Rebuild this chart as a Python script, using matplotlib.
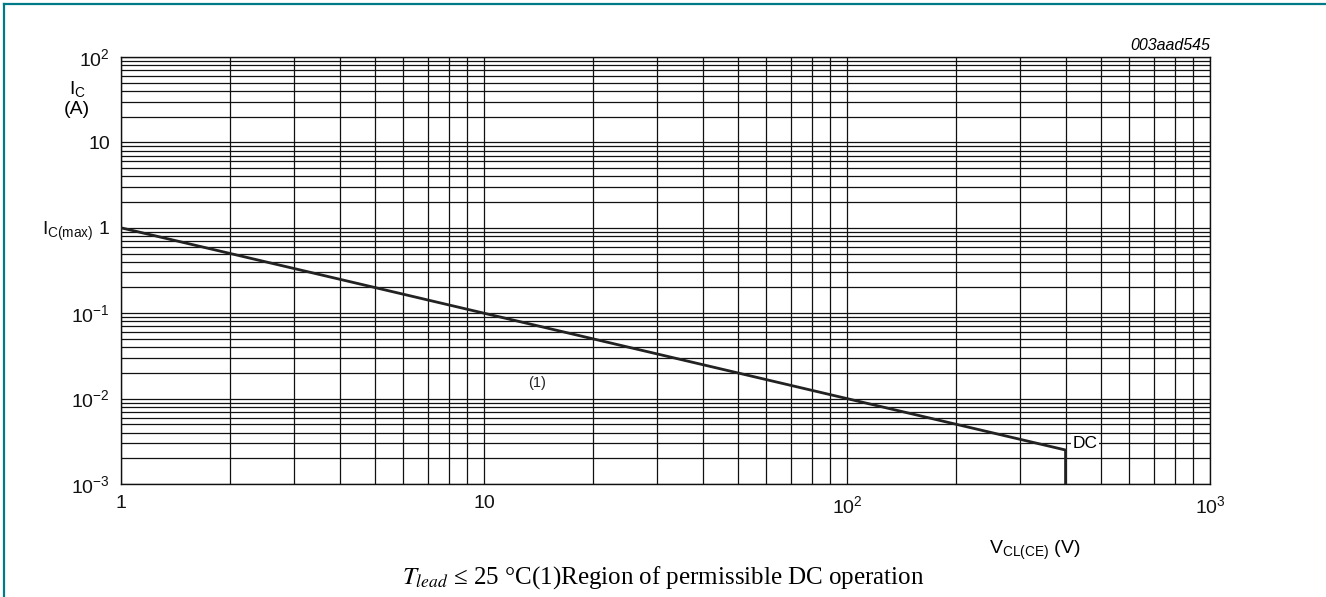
import matplotlib
matplotlib.use("Agg")
import matplotlib.pyplot as plt
from matplotlib.lines import Line2D
from matplotlib.ticker import LogLocator, NullFormatter, FixedLocator

plt.rcParams['mathtext.fontset'] = 'custom'
plt.rcParams['mathtext.rm'] = 'Liberation Sans'
plt.rcParams['mathtext.it'] = 'Liberation Sans:italic'
plt.rcParams['font.family'] = ['Liberation Sans', 'DejaVu Sans']

# Data
soa_v = [1, 400, 400]
soa_i = [1, 0.0025, 0.001]
x_ticks = [1, 10, 100, 1000]
x_ticklabels = ['1', '10', r'$\mathregular{10^{2}}$', r'$\mathregular{10^{3}}$']
y_ticks = [1e-3, 1e-2, 1e-1, 1, 10, 100]
y_ticklabels = [r'$\mathregular{10^{-3}}$', r'$\mathregular{10^{-2}}$', r'$\mathregular{10^{-1}}$',
                r'$\mathregular{I_{C(max)}}$ 1', '10', r'$\mathregular{10^{2}}$']

W, H = 1326, 597
fig = plt.figure(figsize=(W / 100, H / 100), dpi=100)
ax = fig.add_axes([121 / W, 1 - 484 / H, (1210 - 121) / W, (484 - 57) / H])

ax.set_xscale('log')
ax.set_yscale('log')
ax.set_xlim(1, 1000)
ax.set_ylim(1e-3, 100)

ax.xaxis.set_major_locator(FixedLocator(x_ticks))
ax.set_xticklabels(x_ticklabels)
ax.yaxis.set_major_locator(FixedLocator(y_ticks))
ax.set_yticklabels(y_ticklabels)
ax.xaxis.set_minor_locator(LogLocator(base=10, subs=range(2, 10), numticks=20))
ax.yaxis.set_minor_locator(LogLocator(base=10, subs=range(2, 10), numticks=20))
ax.xaxis.set_minor_formatter(NullFormatter())
ax.yaxis.set_minor_formatter(NullFormatter())
ax.tick_params(which='both', length=0, labelsize=14, colors='#111111')
ax.tick_params(axis='x', pad=8)
ax.tick_params(axis='y', pad=8)

ax.grid(which='both', color='#111111', lw=0.9)
for s in ax.spines.values():
    s.set_color('#111111')
    s.set_linewidth(1.0)

ax.plot(soa_v, soa_i, color='#222222', lw=2.0, solid_joinstyle='miter', zorder=3)

ax.text(419, 0.00302, 'DC', fontsize=12.5, ha='left', va='center', zorder=4,
        bbox=dict(facecolor='white', edgecolor='none', pad=1.0))
ax.text(14, 0.0152, '(1)', fontsize=10.5, ha='center', va='center', color='#222222')

fig.text(1210 / W, 1 - 45 / H, '003aad545', ha='right', va='center', fontsize=11.5, style='italic')
fig.text(77 / W, 1 - 89 / H, r'$\mathregular{I_C}$', ha='center', va='center', fontsize=14)
fig.text(77 / W, 1 - 110 / H, '(A)', ha='center', va='center', fontsize=14)
fig.text(1035 / W, 1 - 550 / H, r'$\mathregular{V_{CL(CE)}}$ (V)', ha='center', va='center', fontsize=14)

fig.text(663 / W, 1 - 578 / H, r'$T_{lead}$ ≤ 25 °C(1)Region of permissible DC operation',
         ha='center', va='center', fontsize=18, family='Liberation Serif', math_fontfamily='stix')

teal = '#007A87'
fig.add_artist(Line2D([4 / W, 1], [1 - 4 / H, 1 - 4 / H], color=teal, lw=1.6, transform=fig.transFigure))
fig.add_artist(Line2D([4 / W, 4 / W], [0, 1 - 4 / H], color=teal, lw=1.6, transform=fig.transFigure))

fig.savefig('out.png', dpi=100)
